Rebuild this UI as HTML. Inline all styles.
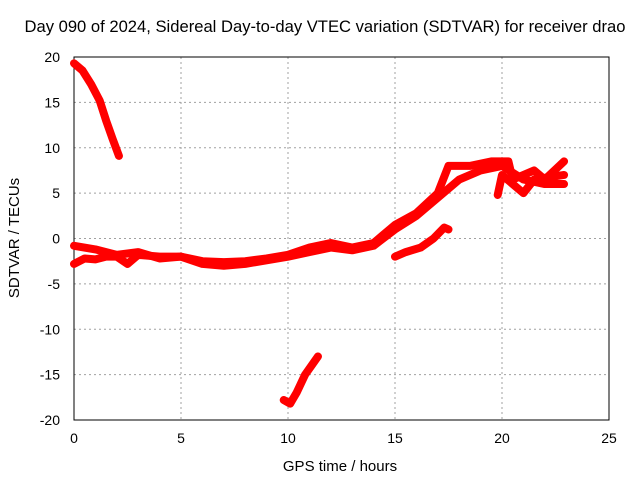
<!DOCTYPE html>
<html><head><meta charset="utf-8"><style>
body{margin:0;background:#fff}
svg{display:block;font-family:"Liberation Sans",sans-serif}
</style></head><body>
<svg id="c" width="640" height="480"></svg>
<script>
const xTicks=[0,5,10,15,20,25];
const yTicks=[-20,-15,-10,-5,0,5,10,15,20];
const seriesA=[[0,19.3],[0.4,18.5],[0.8,17],[1.2,15.2],[1.5,13],[1.8,11],[2.1,9.1]];
const seriesB=[[9.8,-17.8],[10.1,-18.2],[10.4,-17],[10.8,-15],[11.1,-14],[11.4,-13]];
const lowerStrand=[[0,-2.8],[0.5,-2.2],[1,-2.3],[1.5,-2],[2,-2],[2.5,-2.8],[3,-1.8],[4,-2],[5,-2],[6,-2.8],[7,-3],[8,-2.8],[9,-2.4],[10,-2],[11,-1.5],[12,-1],[13,-1.3],[14,-0.8],[15,1],[16,2.5],[17,4.5],[18,6.5],[19,7.5],[20,8],[21,6.5],[22,6],[22.9,6]];
const upperStrand=[[0,-0.8],[1,-1.2],[2,-1.8],[3,-1.5],[4,-2.2],[5,-2],[6,-2.5],[7,-2.6],[8,-2.5],[9,-2.2],[10,-1.8],[11,-1],[12,-0.5],[13,-1],[14,-0.5],[15,1.5],[16,2.8],[17,5],[17.5,8],[18.5,8],[19.5,8.5],[20.3,8.5],[20.5,6.5],[21.5,7.5],[22,6.5],[22.9,8.5]];
const lateStrand=[[19.8,4.8],[20,7],[20.5,6],[21,5],[21.5,6.5],[22.9,7]];
const seriesD=[[15,-2],[15.5,-1.5],[16.2,-1],[16.8,0],[17.3,1.2],[17.5,1]];
const X0=74,X1=609,Y0=420,Y1=57;
const sx=v=>X0+(v-0)/25*(X1-X0);
const sy=v=>Y0-(v+20)/40*(Y0-Y1);
const svg=document.getElementById('c');
const NS='http://www.w3.org/2000/svg';
function mk(t,a,txt){const e=document.createElementNS(NS,t);for(const k in a)e.setAttribute(k,a[k]);if(txt!=null)e.textContent=txt;svg.appendChild(e);return e;}
xTicks.forEach(v=>{
 const g=mk('line',{x1:sx(v),x2:sx(v),y1:Y1,y2:Y0,stroke:'#a0a0a0','stroke-dasharray':'2,3'});
 
 
 const t=mk('text',{x:sx(v),y:Y0+23,'text-anchor':'middle','font-size':14},v);
 
 
});
yTicks.forEach(v=>{
 const g=mk('line',{x1:X0,x2:X1,y1:sy(v),y2:sy(v),stroke:'#a0a0a0','stroke-dasharray':'2,3'});
 
 
 const t=mk('text',{x:X0-14,y:sy(v)+5,'text-anchor':'end','font-size':14},v);
 
 
});
const fr=mk('rect',{x:X0,y:Y1,width:X1-X0,height:Y0-Y1,fill:'none',stroke:'#000'});


function draw(arr,name){
 const p=mk('polyline',{points:arr.map(d=>sx(d[0])+','+sy(d[1])).join(' '),fill:'none',stroke:'#ff0000','stroke-width':8,'stroke-linejoin':'round','stroke-linecap':'round'});
 
 
}
draw(seriesA,'series-early-high');
draw(seriesB,'series-low');
draw(lowerStrand,'series-main-lower');
draw(upperStrand,'series-main-upper');
draw(lateStrand,'series-late');
draw(seriesD,'series-rise');
const ti=mk('text',{x:325,y:32,'text-anchor':'middle','font-size':16.6},'Day 090 of 2024, Sidereal Day-to-day VTEC variation (SDTVAR) for receiver drao');


const xl=mk('text',{x:340,y:471,'text-anchor':'middle','font-size':15},'GPS time / hours');


const yl=mk('text',{x:0,y:0,'text-anchor':'middle','font-size':15,transform:'translate(19,238) rotate(-90)'},'SDTVAR / TECUs');


</script>
</body></html>
